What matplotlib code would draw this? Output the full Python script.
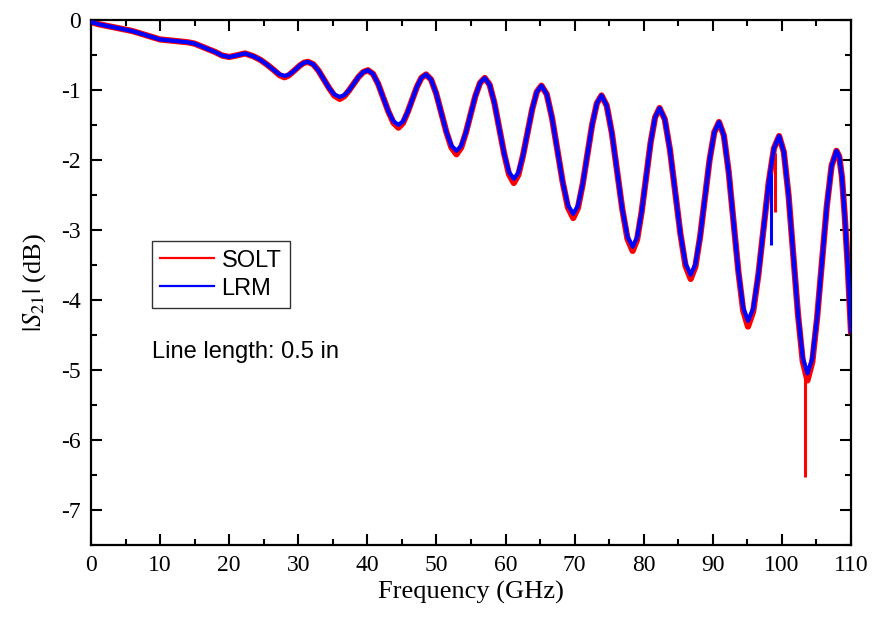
import numpy as np
import matplotlib
matplotlib.use("Agg")
from matplotlib import pyplot as plt
from matplotlib.lines import Line2D
from matplotlib.ticker import MultipleLocator

# Frequency points (GHz)
freq = [0.0, 1.0, 2.0, 3.0, 4.0, 5.0, 6.0, 7.0, 8.0, 9.0,
        10.0, 11.0, 12.0, 13.0, 14.0, 15.0, 16.0, 17.0, 18.0, 19.0,
        20.0, 21.0, 22.3, 23.5, 24.5, 25.5, 26.5, 27.3,
        28.0, 28.57, 29.13, 29.7, 30.27, 30.83,
        31.4, 32.17, 32.93, 33.7, 34.47, 35.23,
        36.0, 36.68, 37.37, 38.05, 38.73, 39.42,
        40.1, 40.83, 41.57, 42.3, 43.03, 43.77,
        44.5, 45.17, 45.83, 46.5, 47.17, 47.83,
        48.5, 49.23, 49.97, 50.7, 51.43, 52.17,
        52.9, 53.58, 54.27, 54.95, 55.63, 56.32,
        57.0, 57.7, 58.4, 59.1, 59.8, 60.5,
        61.2, 61.87, 62.53, 63.2, 63.87, 64.53,
        65.2, 65.97, 66.73, 67.5, 68.27, 69.03,
        69.8, 70.48, 71.17, 71.85, 72.53, 73.22,
        73.9, 74.65, 75.4, 76.15, 76.9, 77.65,
        78.4, 79.05, 79.7, 80.35, 81.0, 81.65,
        82.3, 83.05, 83.8, 84.55, 85.3, 86.05,
        86.8, 87.48, 88.17, 88.85, 89.53, 90.22,
        90.9, 91.6, 92.3, 93.0, 93.7, 94.4,
        95.1, 95.85, 96.6, 97.35, 98.1, 98.85,
        99.6, 100.28, 100.97, 101.65, 102.33, 103.02,
        103.7, 104.4, 105.1, 105.8, 106.5, 107.2,
        107.9, 108.3, 108.7, 109.1, 109.55, 110.0]

# |S21| (dB) for LRM calibration
s21_lrm = [-0.03, -0.06, -0.08, -0.10, -0.12, -0.14, -0.16, -0.19, -0.22, -0.25,
           -0.28, -0.29, -0.30, -0.31, -0.32, -0.34, -0.38, -0.42, -0.46, -0.51,
           -0.53, -0.51, -0.48, -0.52, -0.57, -0.64, -0.72, -0.78,
           -0.80, -0.787, -0.75, -0.70, -0.65, -0.613,
           -0.60, -0.634, -0.725, -0.85, -0.975, -1.067,
           -1.10, -1.075, -1.005, -0.91, -0.815, -0.745,
           -0.72, -0.772, -0.915, -1.11, -1.305, -1.448,
           -1.50, -1.452, -1.32, -1.14, -0.96, -0.828,
           -0.78, -0.853, -1.053, -1.325, -1.598, -1.797,
           -1.87, -1.80, -1.61, -1.35, -1.09, -0.90,
           -0.83, -0.926, -1.19, -1.55, -1.91, -2.174,
           -2.27, -2.181, -1.938, -1.605, -1.273, -1.029,
           -0.94, -1.063, -1.398, -1.855, -2.313, -2.647,
           -2.77, -2.657, -2.348, -1.925, -1.503, -1.193,
           -1.08, -1.225, -1.62, -2.16, -2.70, -3.095,
           -3.24, -3.107, -2.745, -2.25, -1.755, -1.393,
           -1.26, -1.419, -1.855, -2.45, -3.045, -3.481,
           -3.64, -3.494, -3.095, -2.55, -2.005, -1.606,
           -1.46, -1.650, -2.17, -2.88, -3.59, -4.11,
           -4.30, -4.123, -3.64, -2.98, -2.32, -1.837,
           -1.66, -1.887, -2.508, -3.355, -4.203, -4.823,
           -5.05, -4.837, -4.255, -3.46, -2.665, -2.083,
           -1.87, -1.95, -2.25, -2.80, -3.55, -4.45]

# |S21| (dB) for SOLT calibration
s21_solt = [-0.03, -0.06, -0.08, -0.10, -0.12, -0.14, -0.16, -0.19, -0.22, -0.25,
            -0.28, -0.29, -0.30, -0.31, -0.32, -0.34, -0.38, -0.42, -0.46, -0.51,
            -0.53, -0.51, -0.48, -0.52, -0.57, -0.64, -0.72, -0.79,
            -0.82, -0.797, -0.75, -0.70, -0.65, -0.613,
            -0.60, -0.634, -0.725, -0.85, -0.975, -1.082,
            -1.13, -1.09, -1.005, -0.91, -0.815, -0.745,
            -0.72, -0.772, -0.915, -1.11, -1.305, -1.468,
            -1.54, -1.472, -1.32, -1.14, -0.96, -0.828,
            -0.78, -0.853, -1.053, -1.325, -1.598, -1.822,
            -1.92, -1.825, -1.61, -1.35, -1.09, -0.90,
            -0.83, -0.926, -1.19, -1.55, -1.91, -2.204,
            -2.33, -2.211, -1.938, -1.605, -1.273, -1.029,
            -0.94, -1.063, -1.398, -1.855, -2.313, -2.677,
            -2.83, -2.687, -2.348, -1.925, -1.503, -1.193,
            -1.08, -1.225, -1.62, -2.16, -2.70, -3.125,
            -3.30, -3.137, -2.745, -2.25, -1.755, -1.393,
            -1.26, -1.419, -1.855, -2.45, -3.045, -3.511,
            -3.70, -3.524, -3.095, -2.55, -2.005, -1.606,
            -1.46, -1.650, -2.17, -2.88, -3.59, -4.15,
            -4.38, -4.163, -3.64, -2.98, -2.32, -1.837,
            -1.66, -1.887, -2.508, -3.355, -4.203, -4.873,
            -5.15, -4.887, -4.255, -3.46, -2.665, -2.083,
            -1.87, -1.95, -2.25, -2.80, -3.55, -4.45]

# single-point glitches (GHz, top dB, bottom dB)
spike_solt_f = [99.0, 103.3]
spike_solt_top = [-1.9, -4.95]
spike_solt_bot = [-2.75, -6.53]
spike_lrm_f = [98.4]
spike_lrm_top = [-2.2]
spike_lrm_bot = [-3.22]

plt.rcParams['font.family'] = 'Liberation Serif'
plt.rcParams['mathtext.fontset'] = 'stix'
plt.rcParams['axes.unicode_minus'] = False

fig = plt.figure(figsize=(8.78, 6.2), dpi=100)
ax = fig.add_axes([0.1036, 0.121, 0.8656, 0.847])

ax.plot(freq, s21_solt, color='#ff0000', lw=4.5, zorder=2)
ax.vlines(spike_solt_f, spike_solt_bot, spike_solt_top, color='#ff0000', lw=2.2, zorder=2)
ax.plot(freq, s21_lrm, color='#0000ff', lw=3.0, zorder=3)
ax.vlines(spike_lrm_f, spike_lrm_bot, spike_lrm_top, color='#0000ff', lw=2.2, zorder=3)

ax.set_xlim(0, 110)
ax.set_ylim(-7.5, 0)
ax.xaxis.set_major_locator(MultipleLocator(10))
ax.xaxis.set_minor_locator(MultipleLocator(5))
ax.yaxis.set_major_locator(MultipleLocator(1))
ax.yaxis.set_minor_locator(MultipleLocator(0.5))
ax.tick_params(which='both', direction='in', top=True, right=True, width=1.5, labelsize=17)
ax.tick_params(which='major', length=8, pad=7)
ax.tick_params(which='minor', length=4.5)
for sp in ax.spines.values():
    sp.set_linewidth(1.6)

ax.set_xlabel('Frequency (GHz)', fontsize=19, labelpad=4)
ax.set_ylabel(r'$|S_{21}|$ (dB)', fontsize=19, labelpad=10)

handles = [Line2D([], [], color='#ff0000', lw=1.6), Line2D([], [], color='#0000ff', lw=1.6)]
leg = ax.legend(handles, ['SOLT', 'LRM'], loc='upper left', bbox_to_anchor=(0.08, 0.578),
                borderaxespad=0, fancybox=False, framealpha=1, edgecolor='#333333',
                handlelength=2.3, handletextpad=0.3, labelspacing=0.25, borderpad=0.35,
                prop={'family': 'Liberation Sans', 'size': 17})
leg.get_frame().set_linewidth(1.0)

ax.text(0.08, 0.368, 'Line length: 0.5 in', transform=ax.transAxes, fontfamily='Liberation Sans',
        fontsize=17, va='center', ha='left')

fig.savefig('out.png', dpi=100)
